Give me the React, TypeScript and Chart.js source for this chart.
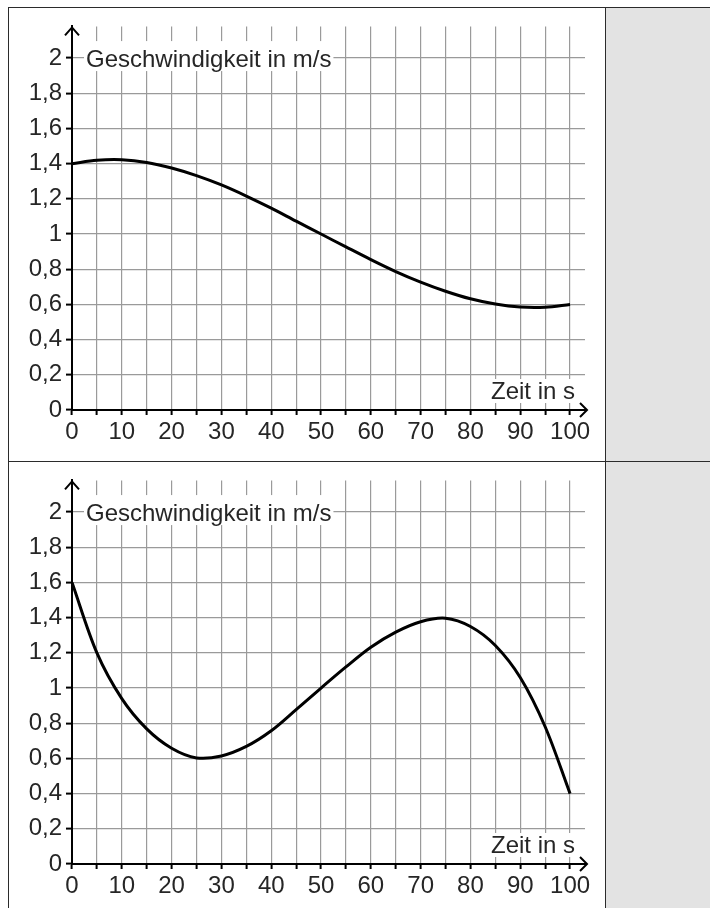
import React, { useEffect, useRef } from 'react';
import { Chart, registerables } from 'chart.js';

Chart.register(...registerables);

// ---------- data ----------
const timeTop = [0, 5, 10, 15, 20, 25, 30, 35, 40, 45, 50, 55, 60, 65, 70, 75, 80, 85, 90, 95, 100];
const speedTop = [1.4, 1.419, 1.422, 1.407, 1.375, 1.332, 1.279, 1.216, 1.147, 1.073, 1.0, 0.927, 0.855, 0.787, 0.727, 0.675, 0.632, 0.602, 0.585, 0.584, 0.6];

const timeBottom = [0, 5, 10, 15, 20, 25, 30, 35, 40, 45, 50, 55, 60, 65, 70, 75, 80, 85, 90, 95, 100];
const speedBottom = [1.6, 1.2, 0.94, 0.768, 0.658, 0.603, 0.614, 0.668, 0.757, 0.877, 1.0, 1.12, 1.232, 1.318, 1.377, 1.397, 1.35, 1.242, 1.06, 0.78, 0.4];

const xTickLabels = ['0', '10', '20', '30', '40', '50', '60', '70', '80', '90', '100'];
const yTickLabels = ['0', '0,2', '0,4', '0,6', '0,8', '1', '1,2', '1,4', '1,6', '1,8', '2'];

const Y_TITLE = 'Geschwindigkeit in m/s';
const X_TITLE = 'Zeit in s';

const X_MAX = 103;
const Y_MAX = 2.18;

const FONT_FAMILY = '"Liberation Sans", Arial, Helvetica, sans-serif';
const TEXT_COLOR = '#262626';
const GRID_COLOR = '#9a9a9a';

const decorPlugin = {
  id: 'decor',
  afterDraw(chart: any) {
    const ctx = chart.ctx as CanvasRenderingContext2D;
    const { left, right, top, bottom } = chart.chartArea;
    const ys = chart.scales.y;
    ctx.save();
    ctx.strokeStyle = '#000';
    ctx.lineWidth = 2;
    ctx.lineCap = 'butt';
    ctx.lineJoin = 'miter';
    // y-axis arrow
    ctx.beginPath();
    ctx.moveTo(left - 7, top + 9);
    ctx.lineTo(left, top + 1);
    ctx.lineTo(left + 7, top + 9);
    ctx.stroke();
    // x-axis extension + arrow
    ctx.beginPath();
    ctx.moveTo(right - 1, bottom);
    ctx.lineTo(right + 2, bottom);
    ctx.stroke();
    ctx.beginPath();
    ctx.moveTo(right - 5, bottom - 7);
    ctx.lineTo(right + 2, bottom);
    ctx.lineTo(right - 5, bottom + 7);
    ctx.stroke();

    ctx.font = `24px ${FONT_FAMILY}`;
    ctx.textBaseline = 'alphabetic';
    ctx.textAlign = 'left';

    // y title
    const y2 = ys.getPixelForValue(2);
    const tx = left + 14;
    const w1 = ctx.measureText(Y_TITLE).width;
    ctx.fillStyle = '#fff';
    ctx.fillRect(tx - 2, y2 - 17, w1 + 4, 30);
    ctx.fillStyle = TEXT_COLOR;
    ctx.fillText(Y_TITLE, tx, y2 + 9);

    // x title
    const w2 = ctx.measureText(X_TITLE).width;
    const xr = right - 10;
    const by = bottom - 11;
    ctx.fillStyle = '#fff';
    ctx.fillRect(xr - w2 - 2, by - 20, w2 + 4, 24);
    ctx.fillStyle = TEXT_COLOR;
    ctx.fillText(X_TITLE, xr - w2, by);
    ctx.restore();
  },
};

function SpeedChart({ times, speeds, height, axisHeight }: { times: number[]; speeds: number[]; height: number; axisHeight: number }) {
  const ref = useRef<HTMLCanvasElement>(null);
  useEffect(() => {
    if (!ref.current) return;
    const chart = new Chart(ref.current, {
      type: 'scatter',
      data: {
        datasets: [
          {
            data: times.map((t, i) => ({ x: t, y: speeds[i] })),
            showLine: true,
            borderColor: '#000',
            borderWidth: 3,
            pointRadius: 0,
            pointHoverRadius: 0,
            tension: 0.33,
            fill: false,
          } as any,
        ],
      },
      options: {
        animation: false,
        responsive: false,
        maintainAspectRatio: false,
        devicePixelRatio: 1,
        events: [],
        layout: { padding: { top: 13, right: 20, left: 0, bottom: 0 } },
        plugins: { legend: { display: false }, tooltip: { enabled: false } },
        scales: {
          x: {
            type: 'linear',
            min: 0,
            max: X_MAX,
            ticks: {
              stepSize: 5,
              includeBounds: false,
              autoSkip: false,
              maxRotation: 0,
              padding: 3,
              color: TEXT_COLOR,
              font: { family: FONT_FAMILY, size: 24 },
              callback: (v: any) => (Math.round(v) % 10 === 0 ? xTickLabels[Math.round(v) / 10] : ''),
            },
            grid: { color: GRID_COLOR, lineWidth: 1.2, tickColor: '#000', tickLength: 5, tickWidth: 2 },
            border: { color: '#000', width: 2 },
            afterFit: (s: any) => {
              s.height = axisHeight;
            },
          },
          y: {
            type: 'linear',
            min: 0,
            max: Y_MAX,
            ticks: {
              stepSize: 0.2,
              includeBounds: false,
              autoSkip: false,
              padding: 4,
              color: TEXT_COLOR,
              font: { family: FONT_FAMILY, size: 24 },
              callback: (v: any) => yTickLabels[Math.round(v / 0.2)] ?? '',
            },
            grid: { color: GRID_COLOR, lineWidth: 1.2, tickColor: '#000', tickLength: 6, tickWidth: 2 },
            border: { color: '#000', width: 2 },
            afterFit: (s: any) => {
              s.width = 63;
            },
          },
        },
      } as any,
      plugins: [decorPlugin],
    });
    return () => chart.destroy();
  }, [times, speeds, height, axisHeight]);
  return <canvas ref={ref} width={596} height={height} style={{ display: 'block', width: 596, height }} />;
}

export default function App() {
  const line = '#2b2b2b';
  return (
    <div style={{ position: 'absolute', left: 0, top: 0, width: 710, height: 908, background: '#fff', overflow: 'hidden' }}>
      {/* gray cell */}
      <div style={{ position: 'absolute', left: 606, top: 7, width: 104, height: 901, background: '#e3e3e3' }} />
      {/* borders */}
      <div style={{ position: 'absolute', left: 8, top: 7, width: 702, height: 1, background: line }} />
      <div style={{ position: 'absolute', left: 8, top: 461, width: 702, height: 1, background: line }} />
      <div style={{ position: 'absolute', left: 8, top: 7, width: 1, height: 901, background: line }} />
      <div style={{ position: 'absolute', left: 605, top: 7, width: 1, height: 901, background: line }} />
      {/* charts */}
      <div style={{ position: 'absolute', left: 9, top: 8 }}>
        <SpeedChart times={timeTop} speeds={speedTop} height={453} axisHeight={51} />
      </div>
      <div style={{ position: 'absolute', left: 9, top: 462 }}>
        <SpeedChart times={timeBottom} speeds={speedBottom} height={446} axisHeight={44} />
      </div>
    </div>
  );
}
